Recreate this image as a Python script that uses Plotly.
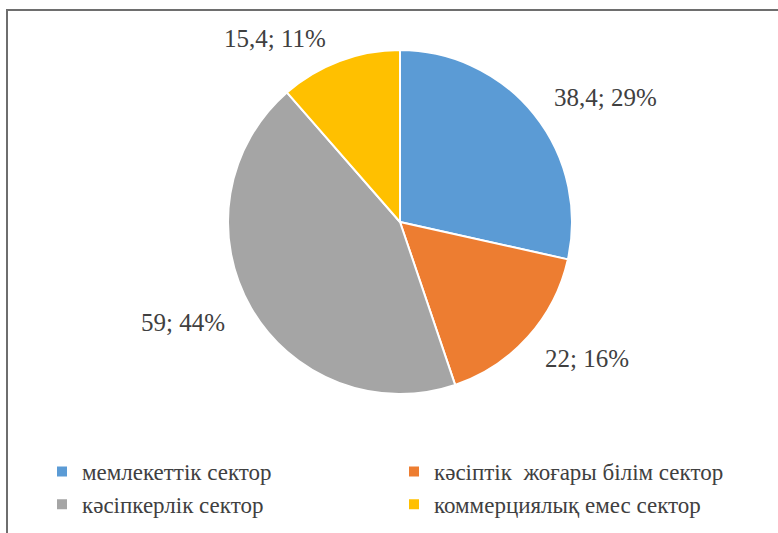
import plotly.graph_objects as go

# Data
categories = ["мемлекеттік сектор", "кәсіптік  жоғары білім сектор",
              "кәсіпкерлік сектор", "коммерциялық емес сектор"]
values = [38.4, 22, 59, 15.4]
percents = [29, 16, 44, 11]  # as printed on the chart

colors = ["#5B9BD5", "#ED7D31", "#A5A5A5", "#FFC000"]

W, H = 778, 533
SERIF = "Liberation Serif, Tinos, DejaVu Serif, serif"


def fmt(v):
    return f"{v:g}".replace(".", ",")


label_texts = [f"{fmt(v)}; {p}%" for v, p in zip(values, percents)]

# label positions in pixels (layout only)
label_pos = [(605, 97), (587, 358), (183, 322), (275, 38)]

cx, cy, r = 400, 222, 172

fig = go.Figure(go.Pie(
    labels=categories,
    values=values,
    sort=False,
    direction="clockwise",
    rotation=0,
    textinfo="none",
    hoverinfo="label+value+percent",
    marker=dict(colors=colors, line=dict(color="white", width=2)),
    domain=dict(x=[(cx - r) / W, (cx + r) / W], y=[1 - (cy + r) / H, 1 - (cy - r) / H]),
))

annotations = []
for t, (px, py) in zip(label_texts, label_pos):
    annotations.append(dict(
        x=px / W, y=1 - py / H, xref="paper", yref="paper",
        text=t, showarrow=False, xanchor="center", yanchor="middle",
        font=dict(family=SERIF, size=25, color="#404040"),
    ))

shapes = [
    dict(type="line", xref="paper", yref="paper", x0=6 / W, x1=1.0, y0=1 - 10 / H, y1=1 - 10 / H,
         line=dict(color="#6e6e6e", width=2)),
    dict(type="line", xref="paper", yref="paper", x0=7 / W, x1=7 / W, y0=1 - 10 / H, y1=0,
         line=dict(color="#6e6e6e", width=2)),
]

fig.update_layout(
    width=W, height=H,
    margin=dict(l=0, r=0, t=0, b=0, autoexpand=False),
    paper_bgcolor="white",
    plot_bgcolor="white",
    font=dict(family=SERIF),
    annotations=annotations,
    shapes=shapes,
    showlegend=True,
    legend=dict(
        orientation="h",
        x=42 / W, y=1 - 450 / H, xanchor="left", yanchor="top",
        entrywidth=307, entrywidthmode="pixels",
        font=dict(family=SERIF, size=23, color="#404040"),
        traceorder="normal",
        bgcolor="rgba(0,0,0,0)",
    ),
)

fig.write_html("out.html", config={"displayModeBar": False},
               post_script="document.body.style.margin='0';")
